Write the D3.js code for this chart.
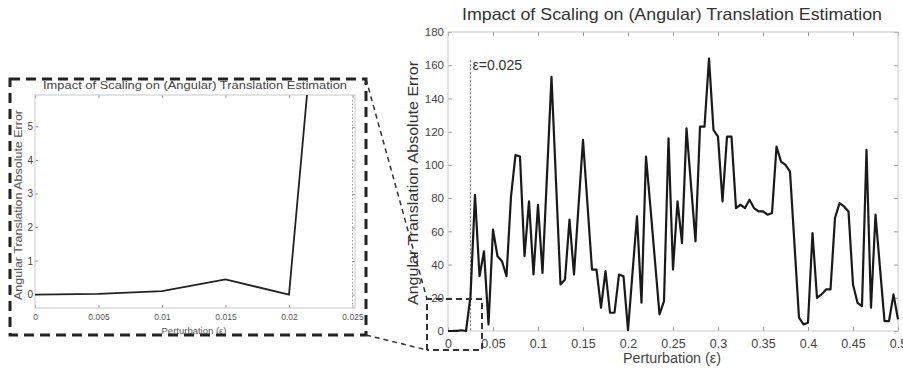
<html>
<head>
<meta charset="utf-8">
<script src="https://d3js.org/d3.v7.min.js"></script>
<style>
  body { margin: 0; background: #fff; }
  text { font-family: "Liberation Sans", Arial, sans-serif; }
  .frame { fill: none; stroke: #c8c8c8; stroke-width: 1; }
  .tick line { stroke: #999; }
</style>
</head>
<body>
<script>
// perturbation grid (epsilon) and angular translation absolute error
var perturbation = [0,0.005,0.01,0.015,0.02,0.025,0.03,0.035,0.04,0.045,
  0.05,0.055,0.06,0.065,0.07,0.075,0.08,0.085,0.09,0.095,
  0.1,0.105,0.11,0.115,0.12,0.125,0.13,0.135,0.14,0.145,
  0.15,0.155,0.16,0.165,0.17,0.175,0.18,0.185,0.19,0.195,
  0.2,0.205,0.21,0.215,0.22,0.225,0.23,0.235,0.24,0.245,
  0.25,0.255,0.26,0.265,0.27,0.275,0.28,0.285,0.29,0.295,
  0.3,0.305,0.31,0.315,0.32,0.325,0.33,0.335,0.34,0.345,
  0.35,0.355,0.36,0.365,0.37,0.375,0.38,0.385,0.39,0.395,
  0.4,0.405,0.41,0.415,0.42,0.425,0.43,0.435,0.44,0.445,
  0.45,0.455,0.46,0.465,0.47,0.475,0.48,0.485,0.49,0.495,0.5];
var angError = [0,0.02,0.1,0.45,0,21,82,33,48,4,
  61,45,42,33,81,106,105,45,78,34,
  76,35,94,153,90,28,31,67,34,75,
  115,76,37,37,14,36,11,11,34,33,
  0.5,35,69,17,105,74,42,10,18,116,
  37,78,53,122,88,54,123,123,164,121,
  117,78,117,117,74,76,74,79,74,72,
  72,70,71,111,102,100,96,52,8,4,
  5,59,20,22,25,25,68,77,75,72,
  28,17,15,109,14,70,38,6,6,22,7];
var mainXTicks = [0,0.05,0.1,0.15,0.2,0.25,0.3,0.35,0.4,0.45,0.5];
var mainYTicks = [0,20,40,60,80,100,120,140,160,180];
var insetXTicks = [0,0.005,0.01,0.015,0.02,0.025];
var insetYTicks = [0,1,2,3,4,5];
var cutoff = 0.025;
var titleText = "Impact of Scaling on (Angular) Translation Estimation";
var yLabelText = "Angular Translation Absolute Error";
var xLabelText = "Perturbation (\u03b5)";

var svg = d3.select("body").append("svg")
  .attr("width", 903).attr("height", 372);

var data = perturbation.map(function(p, i) { return {x: p, y: angError[i]}; });

// main plot
var x = d3.scaleLinear().domain([0, 0.5]).range([448, 898]);
var y = d3.scaleLinear().domain([0, 180]).range([331, 32]);

var main = svg.append("g");

main.append("g").attr("transform", "translate(0,331)")
  .call(d3.axisBottom(x).tickValues(mainXTicks).tickSizeInner(-4).tickSizeOuter(0)
    .tickPadding(8).tickFormat(function(d) { return d; }))
  .call(function(g) { g.select(".domain").remove(); g.selectAll("text").attr("font-size", 12.5).attr("fill", "#444"); });
main.append("g").attr("transform", "translate(0,32)")
  .call(d3.axisTop(x).tickValues(mainXTicks).tickSizeInner(-4).tickSizeOuter(0).tickFormat(""))
  .call(function(g) { g.select(".domain").remove(); });
main.append("g").attr("transform", "translate(448,0)")
  .call(d3.axisLeft(y).tickValues(mainYTicks).tickSizeInner(-4).tickSizeOuter(0).tickPadding(4))
  .call(function(g) { g.select(".domain").remove(); g.selectAll("text").attr("font-size", 11.5).attr("fill", "#444"); });
main.append("g").attr("transform", "translate(898,0)")
  .call(d3.axisRight(y).tickValues(mainYTicks).tickSizeInner(-4).tickSizeOuter(0).tickFormat(""))
  .call(function(g) { g.select(".domain").remove(); });

main.append("rect").attr("class", "frame")
  .attr("x", x(0)).attr("y", y(180))
  .attr("width", x(0.5) - x(0)).attr("height", y(0) - y(180));

// epsilon = 0.025 marker
main.append("line")
  .attr("x1", x(cutoff)).attr("x2", x(cutoff))
  .attr("y1", y(163)).attr("y2", y(0))
  .attr("stroke", "#777").attr("stroke-width", 1.2).attr("stroke-dasharray", "2,2");
main.append("text").attr("x", x(cutoff) + 2).attr("y", y(157))
  .attr("font-size", 14).attr("fill", "#333").text("\u03b5=0.025");

main.append("path").datum(data)
  .attr("fill", "none").attr("stroke", "#1a1a1a").attr("stroke-width", 2.2)
  .attr("stroke-linejoin", "round")
  .attr("d", d3.line().x(function(d) { return x(d.x); }).y(function(d) { return y(d.y); }));

main.append("text").attr("x", 672).attr("y", 20).attr("text-anchor", "middle")
  .attr("font-size", 16.5).attr("fill", "#333")
  .attr("textLength", 420).attr("lengthAdjust", "spacingAndGlyphs").text(titleText);
main.append("text").attr("x", 672).attr("y", 363).attr("text-anchor", "middle")
  .attr("font-size", 14).attr("fill", "#444")
  .attr("textLength", 98).attr("lengthAdjust", "spacingAndGlyphs").text(xLabelText);
main.append("text").attr("transform", "translate(418,183) rotate(-90)").attr("text-anchor", "middle")
  .attr("font-size", 14).attr("fill", "#333")
  .attr("textLength", 244).attr("lengthAdjust", "spacingAndGlyphs").text(yLabelText);

// zoom box in main plot
var zoomBox = {x0: 427, y0: 299, x1: 482, y1: 350};
main.append("path")
  .attr("d", "M" + zoomBox.x0 + "," + zoomBox.y1 + "V" + zoomBox.y0 + "H" + zoomBox.x1 + "V" + zoomBox.y1 + "H" + zoomBox.x0)
  .attr("fill", "none").attr("stroke", "#333").attr("stroke-width", 2).attr("stroke-dasharray", "6,4");

// inset
var xi = d3.scaleLinear().domain([0, 0.025]).range([35, 352.5]);
var yi = d3.scaleLinear().domain([-0.4, 5.95]).range([308, 95]);
var inset = svg.append("g");

inset.append("clipPath").attr("id", "insetClip").append("rect")
  .attr("x", 35).attr("y", 95).attr("width", 320).attr("height", 213);

inset.append("g").attr("transform", "translate(0,308)")
  .call(d3.axisBottom(xi).tickValues(insetXTicks).tickSizeInner(-3).tickSizeOuter(0)
    .tickPadding(6).tickFormat(function(d) { return d; }))
  .call(function(g) { g.select(".domain").remove(); g.selectAll("text").attr("font-size", 8.5).attr("fill", "#555"); });
inset.append("g").attr("transform", "translate(0,95)")
  .call(d3.axisTop(xi).tickValues(insetXTicks).tickSizeInner(-3).tickSizeOuter(0).tickFormat(""))
  .call(function(g) { g.select(".domain").remove(); });
// inset y tick marks and labels
inset.selectAll(".ytick").data(insetYTicks).enter().append("line")
  .attr("x1", 35).attr("x2", 38)
  .attr("y1", function(d) { return yi(d); }).attr("y2", function(d) { return yi(d); })
  .attr("stroke", "#999");
inset.selectAll(".ylab").data(insetYTicks).enter().append("text")
  .attr("x", 33).attr("y", function(d) { return yi(d) + 3.5; })
  .attr("text-anchor", "end").attr("font-size", 10).attr("fill", "#444")
  .text(function(d) { return d; });
inset.append("g").attr("transform", "translate(355,0)")
  .call(d3.axisRight(yi).tickValues(insetYTicks).tickSizeInner(-3).tickSizeOuter(0).tickFormat(""))
  .call(function(g) { g.select(".domain").remove(); });

inset.append("rect").attr("class", "frame")
  .attr("x", 35).attr("y", 95).attr("width", 320).attr("height", 213);

inset.append("line")
  .attr("x1", xi(cutoff)).attr("x2", xi(cutoff)).attr("y1", 100).attr("y2", 306)
  .attr("stroke", "#999").attr("stroke-width", 1).attr("stroke-dasharray", "1.5,2");

inset.append("path").datum(data.filter(function(d) { return d.x <= cutoff; }))
  .attr("clip-path", "url(#insetClip)")
  .attr("fill", "none").attr("stroke", "#222").attr("stroke-width", 1.8)
  .attr("d", d3.line().x(function(d) { return xi(d.x); }).y(function(d) { return yi(d.y); }));

inset.append("text").attr("x", 195).attr("y", 89).attr("text-anchor", "middle")
  .attr("font-size", 10.5).attr("fill", "#444")
  .attr("textLength", 304).attr("lengthAdjust", "spacingAndGlyphs").text(titleText);
inset.append("text").attr("x", 194).attr("y", 334).attr("text-anchor", "middle")
  .attr("font-size", 9.5).attr("fill", "#555").text(xLabelText);
inset.append("text").attr("transform", "translate(22,205) rotate(-90)").attr("text-anchor", "middle")
  .attr("font-size", 10.5).attr("fill", "#555")
  .attr("textLength", 190).attr("lengthAdjust", "spacingAndGlyphs").text(yLabelText);

// inset dashed border and connectors
var insetBox = {x0: 10, y0: 79, x1: 366, y1: 335};
svg.append("rect")
  .attr("x", insetBox.x0).attr("y", insetBox.y0)
  .attr("width", insetBox.x1 - insetBox.x0).attr("height", insetBox.y1 - insetBox.y0)
  .attr("fill", "none").attr("stroke", "#222").attr("stroke-width", 3).attr("stroke-dasharray", "10,6");
svg.append("line")
  .attr("x1", insetBox.x1).attr("y1", insetBox.y0).attr("x2", zoomBox.x0).attr("y2", zoomBox.y0)
  .attr("stroke", "#333").attr("stroke-width", 1.5).attr("stroke-dasharray", "5,4");
svg.append("line")
  .attr("x1", insetBox.x1).attr("y1", insetBox.y1).attr("x2", zoomBox.x0).attr("y2", zoomBox.y1)
  .attr("stroke", "#333").attr("stroke-width", 1.5).attr("stroke-dasharray", "5,4");
</script>
</body>
</html>
